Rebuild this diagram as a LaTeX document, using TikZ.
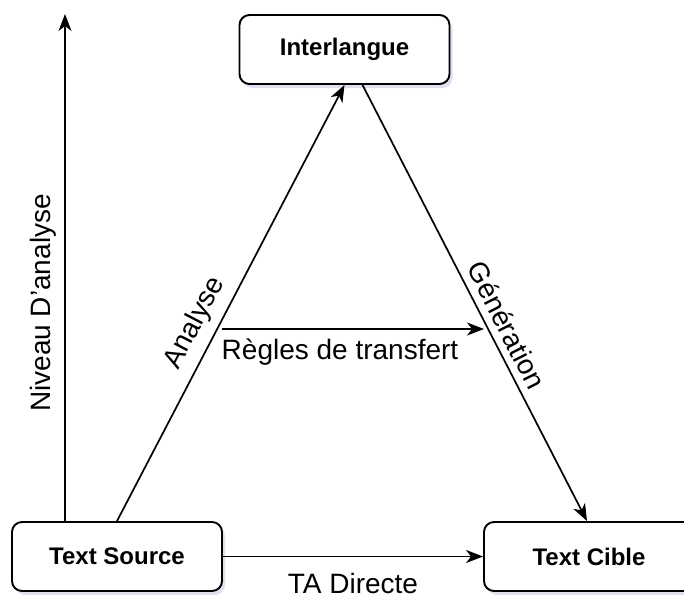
\documentclass[tikz,border=0pt]{standalone}
\usepackage{fontspec}
\setmainfont{Liberation Sans}
\usetikzlibrary{arrows.meta,shadows}
\definecolor{shade}{RGB}{150,150,205}
\begin{document}
\begin{tikzpicture}[x=1pt,y=-1pt,
  box/.style={draw=black, line width=1.9pt, rounded corners=10pt, fill=white,
    minimum width=210pt, minimum height=69pt, inner sep=0pt,
    font=\fontsize{24}{28}\selectfont\bfseries,
    drop shadow={shadow xshift=3pt, shadow yshift=-4pt, opacity=0.3, fill=shade}},
  link/.style={line width=1.7pt, -{Stealth[length=17pt,width=13pt,inset=5pt]}},
  lbl/.style={font=\fontsize{28}{32}\selectfont, inner sep=0pt}]
\useasboundingbox (0,0) rectangle (684,594);
\clip (0,0) rectangle (684,594);

% the three levels of the translation pyramid
\node[box] (inter) at (344.5,49.5) {Interlangue};
\node[box] (src)   at (117,556.5)  {Text Source};
\node[box] (tgt)   at (589,556.5)  {Text Cible};

% free ends of the axis and of the transfer arrow
\coordinate (axisbase) at (65,522);
\coordinate (axistop)  at (65,14);
\coordinate (trfrom)   at (222,329);
\coordinate (trto)     at (484,329);

% connectors
\draw[link] (axisbase) -- (axistop);
\draw[link] (src.north) -- (inter.south);
\draw[link] ([xshift=18pt]inter.south) -- ([xshift=-2pt]tgt.north);
\draw[link] (trfrom) -- (trto);
\draw[link] (src.east) -- (tgt.west);

% labels
\node[lbl, rotate=90]    (niveau)  at (43,303)  {Niveau D'analyse};
\node[lbl, rotate=62.4]  (analyse) at (195,323) {Analyse};
\node[lbl, rotate=-63.1] (gen)     at (507,325) {Génération};
\node[lbl]               (regles)  at (340,352) {Règles de transfert};
\node[lbl, anchor=base]  (direct)  at (353,593) {TA Directe};
\end{tikzpicture}
\end{document}
